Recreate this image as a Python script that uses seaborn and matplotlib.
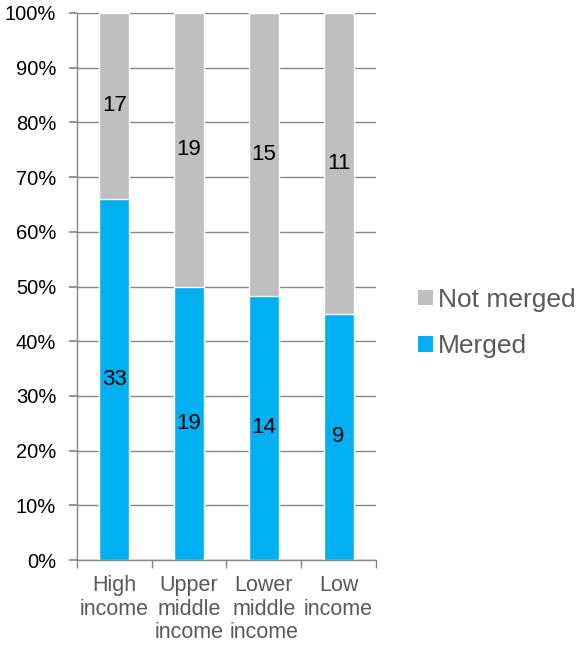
import matplotlib
matplotlib.use("Agg")
import matplotlib.pyplot as plt
import seaborn as sns
import pandas as pd
import numpy as np
from matplotlib.patches import Patch

categories = ["High\nincome", "Upper\nmiddle\nincome", "Lower\nmiddle\nincome", "Low\nincome"]
merged = [33, 19, 14, 9]
not_merged = [17, 19, 15, 11]
yticks = [0, 10, 20, 30, 40, 50, 60, 70, 80, 90, 100]

sns.set_theme(style="white")
plt.rcParams['font.family'] = ['Liberation Sans', 'DejaVu Sans']

tot = np.array(merged) + np.array(not_merged)
df = pd.DataFrame({
    "cat": categories,
    "merged_pct": np.array(merged) / tot * 100,
    "total_pct": np.full(len(categories), 100.0),
})

fig = plt.figure(figsize=(5.77, 6.45), dpi=100)
ax = fig.add_axes([77/577, 1 - 560/645, (376-77)/577, (560-13)/645])

blue = "#00B0F0"
grey = "#BFBFBF"

sns.barplot(data=df, x="cat", y="total_pct", color=grey, width=0.4, ax=ax, saturation=1)
sns.barplot(data=df, x="cat", y="merged_pct", color=blue, width=0.4, ax=ax, saturation=1)

ax.set_ylim(0, 100)
ax.set_xlim(-0.5, len(categories) - 0.5)
ax.set_yticks(yticks)
ax.set_yticklabels([f"{t}%" for t in yticks])
ax.yaxis.grid(True, color="#868686", linewidth=1)
ax.set_axisbelow(True)
ax.set_xlabel("")
ax.set_ylabel("")
for s in ["top", "right"]:
    ax.spines[s].set_visible(False)
for s in ["left", "bottom"]:
    ax.spines[s].set_color("#868686")
    ax.spines[s].set_linewidth(1)

ax.tick_params(axis="y", which="both", left=True, length=6, color="#868686",
               labelsize=14.5, labelcolor="#000000", pad=9)
ax.set_xticks(np.arange(len(categories)))
ax.set_xticklabels(categories)
ax.tick_params(axis="x", which="major", length=0, labelsize=15.5, labelcolor="#595959", pad=11)
ax.set_xticks(np.arange(-0.5, len(categories)), minor=True)
ax.tick_params(axis="x", which="minor", bottom=True, length=6, color="#868686", width=1)
for lbl in ax.get_xticklabels():
    lbl.set_linespacing(1.15)

mp = df["merged_pct"].values
for i in range(len(categories)):
    ax.text(i, mp[i] / 2, str(merged[i]), ha="center", va="center", fontsize=16, color="black")
    ax.text(i, mp[i] + (100 - mp[i]) / 2, str(not_merged[i]), ha="center", va="center",
            fontsize=16, color="black")

handles = [Patch(facecolor=grey, edgecolor="none", label="Not merged"),
           Patch(facecolor=blue, edgecolor="none", label="Merged")]
fig.legend(handles=handles, loc="center left", bbox_to_anchor=(418/577, 1 - 323/645),
           frameon=False, fontsize=19, labelcolor="#595959", handlelength=0.55,
           handleheight=0.55, handletextpad=0.2, labelspacing=0.85, borderpad=0,
           borderaxespad=0)

fig.savefig("out.png", dpi=100)
